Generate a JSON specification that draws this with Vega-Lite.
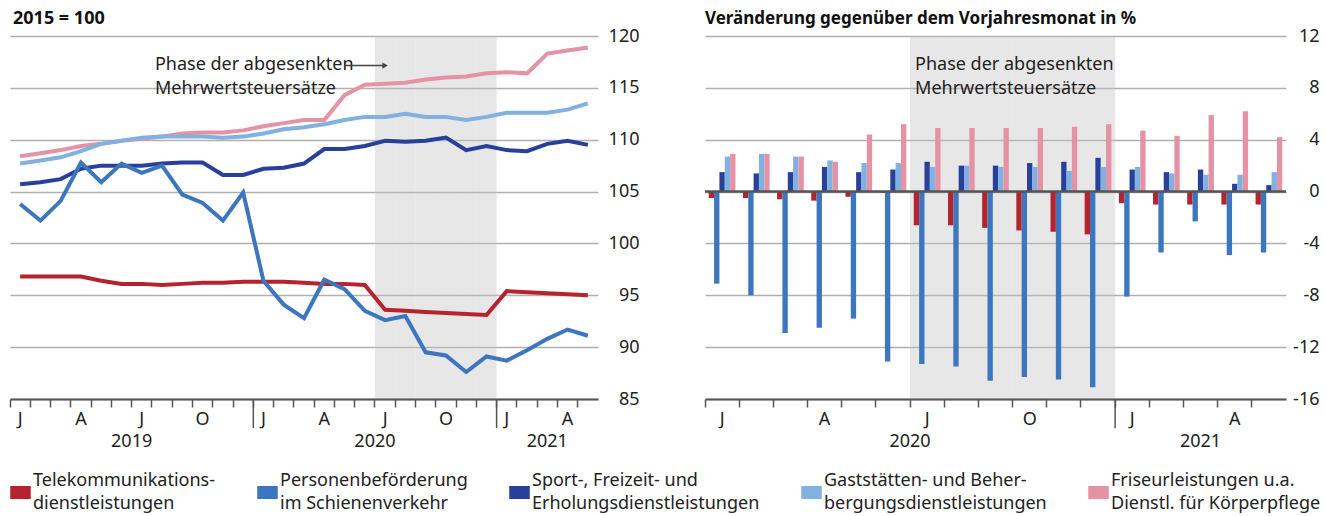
{
  "$schema": "https://vega.github.io/schema/vega-lite/v6.json",
  "background": "white",
  "padding": {"left": 9, "top": 10, "right": 0, "bottom": 0},
  "spacing": 64,
  "config": {
    "font": "Noto Sans",
    "view": {"stroke": null},
    "axis": {"labelFont": "Noto Sans", "labelFontSize": 18, "labelColor": "#222"},
    "title": {"font": "Noto Sans", "fontSize": 17, "fontWeight": "bold", "color": "#111", "anchor": "start", "frame": "group", "baseline": "alphabetic", "offset": -1},
    "text": {"font": "Noto Sans"}
  },
  "datasets": {
    "index": [
      {"m":"2019-01","s":"Fris","v":108.4},{"m":"2019-02","s":"Fris","v":108.7},{"m":"2019-03","s":"Fris","v":109.0},{"m":"2019-04","s":"Fris","v":109.4},{"m":"2019-05","s":"Fris","v":109.6},{"m":"2019-06","s":"Fris","v":109.9},{"m":"2019-07","s":"Fris","v":110.1},{"m":"2019-08","s":"Fris","v":110.3},{"m":"2019-09","s":"Fris","v":110.6},{"m":"2019-10","s":"Fris","v":110.7},{"m":"2019-11","s":"Fris","v":110.7},{"m":"2019-12","s":"Fris","v":110.9},
      {"m":"2020-01","s":"Fris","v":111.3},{"m":"2020-02","s":"Fris","v":111.6},{"m":"2020-03","s":"Fris","v":111.9},{"m":"2020-04","s":"Fris","v":111.9},{"m":"2020-05","s":"Fris","v":114.3},{"m":"2020-06","s":"Fris","v":115.3},{"m":"2020-07","s":"Fris","v":115.4},{"m":"2020-08","s":"Fris","v":115.5},{"m":"2020-09","s":"Fris","v":115.8},{"m":"2020-10","s":"Fris","v":116.0},{"m":"2020-11","s":"Fris","v":116.1},{"m":"2020-12","s":"Fris","v":116.4},
      {"m":"2021-01","s":"Fris","v":116.5},{"m":"2021-02","s":"Fris","v":116.4},{"m":"2021-03","s":"Fris","v":118.3},{"m":"2021-04","s":"Fris","v":118.6},{"m":"2021-05","s":"Fris","v":118.9},
      {"m":"2019-01","s":"Gast","v":107.7},{"m":"2019-02","s":"Gast","v":108.0},{"m":"2019-03","s":"Gast","v":108.3},{"m":"2019-04","s":"Gast","v":108.9},{"m":"2019-05","s":"Gast","v":109.6},{"m":"2019-06","s":"Gast","v":109.9},{"m":"2019-07","s":"Gast","v":110.2},{"m":"2019-08","s":"Gast","v":110.3},{"m":"2019-09","s":"Gast","v":110.3},{"m":"2019-10","s":"Gast","v":110.3},{"m":"2019-11","s":"Gast","v":110.2},{"m":"2019-12","s":"Gast","v":110.3},
      {"m":"2020-01","s":"Gast","v":110.6},{"m":"2020-02","s":"Gast","v":111.0},{"m":"2020-03","s":"Gast","v":111.2},{"m":"2020-04","s":"Gast","v":111.5},{"m":"2020-05","s":"Gast","v":111.9},{"m":"2020-06","s":"Gast","v":112.2},{"m":"2020-07","s":"Gast","v":112.2},{"m":"2020-08","s":"Gast","v":112.5},{"m":"2020-09","s":"Gast","v":112.2},{"m":"2020-10","s":"Gast","v":112.2},{"m":"2020-11","s":"Gast","v":111.9},{"m":"2020-12","s":"Gast","v":112.2},
      {"m":"2021-01","s":"Gast","v":112.6},{"m":"2021-02","s":"Gast","v":112.6},{"m":"2021-03","s":"Gast","v":112.6},{"m":"2021-04","s":"Gast","v":112.9},{"m":"2021-05","s":"Gast","v":113.5},
      {"m":"2019-01","s":"Sport","v":105.7},{"m":"2019-02","s":"Sport","v":105.9},{"m":"2019-03","s":"Sport","v":106.2},{"m":"2019-04","s":"Sport","v":107.2},{"m":"2019-05","s":"Sport","v":107.5},{"m":"2019-06","s":"Sport","v":107.5},{"m":"2019-07","s":"Sport","v":107.5},{"m":"2019-08","s":"Sport","v":107.7},{"m":"2019-09","s":"Sport","v":107.8},{"m":"2019-10","s":"Sport","v":107.8},{"m":"2019-11","s":"Sport","v":106.6},{"m":"2019-12","s":"Sport","v":106.6},
      {"m":"2020-01","s":"Sport","v":107.2},{"m":"2020-02","s":"Sport","v":107.3},{"m":"2020-03","s":"Sport","v":107.7},{"m":"2020-04","s":"Sport","v":109.1},{"m":"2020-05","s":"Sport","v":109.1},{"m":"2020-06","s":"Sport","v":109.4},{"m":"2020-07","s":"Sport","v":109.9},{"m":"2020-08","s":"Sport","v":109.8},{"m":"2020-09","s":"Sport","v":109.9},{"m":"2020-10","s":"Sport","v":110.2},{"m":"2020-11","s":"Sport","v":109.0},{"m":"2020-12","s":"Sport","v":109.4},
      {"m":"2021-01","s":"Sport","v":109.0},{"m":"2021-02","s":"Sport","v":108.9},{"m":"2021-03","s":"Sport","v":109.6},{"m":"2021-04","s":"Sport","v":109.9},{"m":"2021-05","s":"Sport","v":109.5},
      {"m":"2019-01","s":"Tel","v":96.8},{"m":"2019-02","s":"Tel","v":96.8},{"m":"2019-03","s":"Tel","v":96.8},{"m":"2019-04","s":"Tel","v":96.8},{"m":"2019-05","s":"Tel","v":96.4},{"m":"2019-06","s":"Tel","v":96.1},{"m":"2019-07","s":"Tel","v":96.1},{"m":"2019-08","s":"Tel","v":96.0},{"m":"2019-09","s":"Tel","v":96.1},{"m":"2019-10","s":"Tel","v":96.2},{"m":"2019-11","s":"Tel","v":96.2},{"m":"2019-12","s":"Tel","v":96.3},
      {"m":"2020-01","s":"Tel","v":96.3},{"m":"2020-02","s":"Tel","v":96.3},{"m":"2020-03","s":"Tel","v":96.2},{"m":"2020-04","s":"Tel","v":96.1},{"m":"2020-05","s":"Tel","v":96.1},{"m":"2020-06","s":"Tel","v":96.0},{"m":"2020-07","s":"Tel","v":93.6},{"m":"2020-08","s":"Tel","v":93.5},{"m":"2020-09","s":"Tel","v":93.4},{"m":"2020-10","s":"Tel","v":93.3},{"m":"2020-11","s":"Tel","v":93.2},{"m":"2020-12","s":"Tel","v":93.1},
      {"m":"2021-01","s":"Tel","v":95.4},{"m":"2021-02","s":"Tel","v":95.3},{"m":"2021-03","s":"Tel","v":95.2},{"m":"2021-04","s":"Tel","v":95.1},{"m":"2021-05","s":"Tel","v":95.0},
      {"m":"2019-01","s":"Bahn","v":103.8},{"m":"2019-02","s":"Bahn","v":102.2},{"m":"2019-03","s":"Bahn","v":104.1},{"m":"2019-04","s":"Bahn","v":107.8},{"m":"2019-05","s":"Bahn","v":105.9},{"m":"2019-06","s":"Bahn","v":107.7},{"m":"2019-07","s":"Bahn","v":106.8},{"m":"2019-08","s":"Bahn","v":107.5},{"m":"2019-09","s":"Bahn","v":104.7},{"m":"2019-10","s":"Bahn","v":103.9},{"m":"2019-11","s":"Bahn","v":102.2},{"m":"2019-12","s":"Bahn","v":104.9},
      {"m":"2020-01","s":"Bahn","v":96.4},{"m":"2020-02","s":"Bahn","v":94.1},{"m":"2020-03","s":"Bahn","v":92.8},{"m":"2020-04","s":"Bahn","v":96.5},{"m":"2020-05","s":"Bahn","v":95.6},{"m":"2020-06","s":"Bahn","v":93.5},{"m":"2020-07","s":"Bahn","v":92.6},{"m":"2020-08","s":"Bahn","v":93.0},{"m":"2020-09","s":"Bahn","v":89.5},{"m":"2020-10","s":"Bahn","v":89.2},{"m":"2020-11","s":"Bahn","v":87.6},{"m":"2020-12","s":"Bahn","v":89.1},
      {"m":"2021-01","s":"Bahn","v":88.7},{"m":"2021-02","s":"Bahn","v":89.7},{"m":"2021-03","s":"Bahn","v":90.8},{"m":"2021-04","s":"Bahn","v":91.7},{"m":"2021-05","s":"Bahn","v":91.1}
    ],
    "change": [
      {"m":"2020-01","s":"Tel","v":-0.5},{"m":"2020-02","s":"Tel","v":-0.5},{"m":"2020-03","s":"Tel","v":-0.6},{"m":"2020-04","s":"Tel","v":-0.7},{"m":"2020-05","s":"Tel","v":-0.4},{"m":"2020-06","s":"Tel","v":-0.1},{"m":"2020-07","s":"Tel","v":-2.6},{"m":"2020-08","s":"Tel","v":-2.6},{"m":"2020-09","s":"Tel","v":-2.8},{"m":"2020-10","s":"Tel","v":-3.0},{"m":"2020-11","s":"Tel","v":-3.1},{"m":"2020-12","s":"Tel","v":-3.3},{"m":"2021-01","s":"Tel","v":-0.9},{"m":"2021-02","s":"Tel","v":-1.0},{"m":"2021-03","s":"Tel","v":-1.0},{"m":"2021-04","s":"Tel","v":-1.0},{"m":"2021-05","s":"Tel","v":-1.0},
      {"m":"2020-01","s":"Bahn","v":-7.1},{"m":"2020-02","s":"Bahn","v":-8.0},{"m":"2020-03","s":"Bahn","v":-10.9},{"m":"2020-04","s":"Bahn","v":-10.5},{"m":"2020-05","s":"Bahn","v":-9.8},{"m":"2020-06","s":"Bahn","v":-13.1},{"m":"2020-07","s":"Bahn","v":-13.3},{"m":"2020-08","s":"Bahn","v":-13.5},{"m":"2020-09","s":"Bahn","v":-14.6},{"m":"2020-10","s":"Bahn","v":-14.3},{"m":"2020-11","s":"Bahn","v":-14.5},{"m":"2020-12","s":"Bahn","v":-15.1},{"m":"2021-01","s":"Bahn","v":-8.1},{"m":"2021-02","s":"Bahn","v":-4.7},{"m":"2021-03","s":"Bahn","v":-2.3},{"m":"2021-04","s":"Bahn","v":-4.9},{"m":"2021-05","s":"Bahn","v":-4.7},
      {"m":"2020-01","s":"Sport","v":1.5},{"m":"2020-02","s":"Sport","v":1.4},{"m":"2020-03","s":"Sport","v":1.5},{"m":"2020-04","s":"Sport","v":1.9},{"m":"2020-05","s":"Sport","v":1.5},{"m":"2020-06","s":"Sport","v":1.7},{"m":"2020-07","s":"Sport","v":2.3},{"m":"2020-08","s":"Sport","v":2.0},{"m":"2020-09","s":"Sport","v":2.0},{"m":"2020-10","s":"Sport","v":2.2},{"m":"2020-11","s":"Sport","v":2.3},{"m":"2020-12","s":"Sport","v":2.6},{"m":"2021-01","s":"Sport","v":1.7},{"m":"2021-02","s":"Sport","v":1.5},{"m":"2021-03","s":"Sport","v":1.7},{"m":"2021-04","s":"Sport","v":0.6},{"m":"2021-05","s":"Sport","v":0.5},
      {"m":"2020-01","s":"Gast","v":2.7},{"m":"2020-02","s":"Gast","v":2.9},{"m":"2020-03","s":"Gast","v":2.7},{"m":"2020-04","s":"Gast","v":2.4},{"m":"2020-05","s":"Gast","v":2.2},{"m":"2020-06","s":"Gast","v":2.2},{"m":"2020-07","s":"Gast","v":1.9},{"m":"2020-08","s":"Gast","v":2.0},{"m":"2020-09","s":"Gast","v":1.9},{"m":"2020-10","s":"Gast","v":1.9},{"m":"2020-11","s":"Gast","v":1.6},{"m":"2020-12","s":"Gast","v":1.9},{"m":"2021-01","s":"Gast","v":1.9},{"m":"2021-02","s":"Gast","v":1.4},{"m":"2021-03","s":"Gast","v":1.3},{"m":"2021-04","s":"Gast","v":1.3},{"m":"2021-05","s":"Gast","v":1.5},
      {"m":"2020-01","s":"Fris","v":2.9},{"m":"2020-02","s":"Fris","v":2.9},{"m":"2020-03","s":"Fris","v":2.7},{"m":"2020-04","s":"Fris","v":2.3},{"m":"2020-05","s":"Fris","v":4.4},{"m":"2020-06","s":"Fris","v":5.2},{"m":"2020-07","s":"Fris","v":4.9},{"m":"2020-08","s":"Fris","v":4.9},{"m":"2020-09","s":"Fris","v":4.9},{"m":"2020-10","s":"Fris","v":4.9},{"m":"2020-11","s":"Fris","v":5.0},{"m":"2020-12","s":"Fris","v":5.2},{"m":"2021-01","s":"Fris","v":4.7},{"m":"2021-02","s":"Fris","v":4.3},{"m":"2021-03","s":"Fris","v":5.9},{"m":"2021-04","s":"Fris","v":6.2},{"m":"2021-05","s":"Fris","v":4.2}
    ],
    "phase": [{"m":"2020-07"},{"m":"2020-08"},{"m":"2020-09"},{"m":"2020-10"},{"m":"2020-11"},{"m":"2020-12"}],
    "yearsepL": [{"m":"2020-01"},{"m":"2021-01"}],
    "yearsepR": [{"m":"2021-01"}],
    "yearsL": [{"m":"2019-07","t":"2019"},{"m":"2020-07","t":"2020"}],
    "yearsR": [{"m":"2020-07","t":"2020"}],
    "year2021": [{"m":"2021-03","t":"2021"}],
    "noteL": [{"m":"2019-08","t":"Phase der abgesenkten\nMehrwertsteuersätze"}],
    "noteR": [{"m":"2020-07","t":"Phase der abgesenkten\nMehrwertsteuersätze"}],
    "arrow": [{"m":"2020-05"},{"m":"2020-07"}],
    "arrowhead": [{"m":"2020-07"}],
    "zero": [{"z": 0}]
  },
  "hconcat": [
    {
      "width": 588,
      "height": 363,
      "title": {"text": "2015 = 100", "dx": 3, "fontSize": 18},
      "layer": [
        {
          "data": {"name": "phase"},
          "mark": {"type": "rect", "color": "#c4c4c4", "opacity": 0.4},
          "encoding": {
            "x": {"field": "m", "type": "ordinal", "scale": {"type": "band", "paddingInner": 0, "paddingOuter": 0},
              "axis": {"title": null, "bandPosition": 0, "labelAngle": 0, "labelOverlap": false, "domainColor": "#555", "domainWidth": 2, "tickColor": "#555", "tickWidth": 1.5, "tickSize": 8, "labelPadding": 3, "grid": false,
                "labelExpr": "slice(datum.value,5)=='01' ? 'J' : slice(datum.value,5)=='04' ? 'A' : slice(datum.value,5)=='07' ? 'J' : slice(datum.value,5)=='10' ? 'O' : ''"}},
            "y": {"datum": 120, "type": "quantitative", "scale": {"domain": [85, 120], "nice": false, "zero": false},
              "axis": {"title": null, "orient": "right", "values": [85, 90, 95, 100, 105, 110, 115, 120], "domain": false, "ticks": false, "tickSize": 0, "grid": true, "gridColor": "#b0b0b0", "gridWidth": 1.3, "labelAlign": "right", "labelBaseline": "middle", "labelPadding": 41}},
            "y2": {"datum": 85}
          }
        },
        {
          "data": {"name": "index"},
          "mark": {"type": "line", "strokeWidth": 4},
          "encoding": {
            "x": {"field": "m", "type": "ordinal", "scale": {"type": "band", "paddingInner": 0, "paddingOuter": 0},
              "axis": {"title": null, "bandPosition": 0, "labelAngle": 0, "labelOverlap": false, "domainColor": "#555", "domainWidth": 2, "tickColor": "#555", "tickWidth": 1.5, "tickSize": 8, "labelPadding": 3, "grid": false,
                "labelExpr": "slice(datum.value,5)=='01' ? 'J' : slice(datum.value,5)=='04' ? 'A' : slice(datum.value,5)=='07' ? 'J' : slice(datum.value,5)=='10' ? 'O' : ''"}},
            "y": {"field": "v", "type": "quantitative", "scale": {"domain": [85, 120], "nice": false, "zero": false},
              "axis": {"title": null, "orient": "right", "values": [85, 90, 95, 100, 105, 110, 115, 120], "domain": false, "ticks": false, "tickSize": 0, "grid": true, "gridColor": "#b0b0b0", "gridWidth": 1.3, "labelAlign": "right", "labelBaseline": "middle", "labelPadding": 41}},
            "color": {"field": "s", "type": "nominal",
              "scale": {"domain": ["Tel", "Bahn", "Sport", "Gast", "Fris"], "range": ["#B5232E", "#3B76BE", "#28409A", "#80B1E0", "#E592A4"]},
              "legend": {"title": null, "orient": "none", "legendX": 0, "legendY": 446, "direction": "horizontal", "columns": 5, "columnPadding": 39,
                "symbolType": "M-1,-0.6H1V0.6H-1Z", "symbolSize": 361, "labelFontSize": 18, "labelFont": "Noto Sans", "labelColor": "#222", "labelOffset": 2, "labelLimit": 400,
                "labelExpr": "datum.label=='Tel' ? ['Telekommunikations-','dienstleistungen'] : datum.label=='Bahn' ? ['Personenbeförderung','im Schienenverkehr'] : datum.label=='Sport' ? ['Sport-, Freizeit- und','Erholungsdienstleistungen'] : datum.label=='Gast' ? ['Gaststätten- und Beher-','bergungsdienstleistungen'] : ['Friseurleistungen u.a.','Dienstl. für Körperpflege']",
                "encode": {"symbols": {"update": {"fill": {"scale": "color", "field": "value"}, "stroke": {"value": "transparent"}, "opacity": {"value": 1}}}, "labels": {"update": {"lineHeight": {"value": 23}, "dy": {"value": -11.5}}}}}}
          }
        },
        {
          "data": {"name": "yearsepL"},
          "mark": {"type": "rule", "color": "#555", "strokeWidth": 1.5},
          "encoding": {
            "x": {"field": "m", "type": "ordinal", "bandPosition": 0, "scale": {"type": "band", "paddingInner": 0, "paddingOuter": 0},
              "axis": {"title": null, "bandPosition": 0, "labelAngle": 0, "labelOverlap": false, "domainColor": "#555", "domainWidth": 2, "tickColor": "#555", "tickWidth": 1.5, "tickSize": 8, "labelPadding": 3, "grid": false,
                "labelExpr": "slice(datum.value,5)=='01' ? 'J' : slice(datum.value,5)=='04' ? 'A' : slice(datum.value,5)=='07' ? 'J' : slice(datum.value,5)=='10' ? 'O' : ''"}},
            "y": {"datum": 85, "type": "quantitative", "scale": {"domain": [85, 120], "nice": false, "zero": false},
              "axis": {"title": null, "orient": "right", "values": [85, 90, 95, 100, 105, 110, 115, 120], "domain": false, "ticks": false, "tickSize": 0, "grid": true, "gridColor": "#b0b0b0", "gridWidth": 1.3, "labelAlign": "right", "labelBaseline": "middle", "labelPadding": 41}},
            "y2": {"datum": 82.2}
          }
        },
        {
          "data": {"name": "yearsL"},
          "mark": {"type": "text", "fontSize": 18, "color": "#222", "baseline": "middle", "align": "center"},
          "encoding": {
            "x": {"field": "m", "type": "ordinal", "bandPosition": 0, "scale": {"type": "band", "paddingInner": 0, "paddingOuter": 0},
              "axis": {"title": null, "bandPosition": 0, "labelAngle": 0, "labelOverlap": false, "domainColor": "#555", "domainWidth": 2, "tickColor": "#555", "tickWidth": 1.5, "tickSize": 8, "labelPadding": 3, "grid": false,
                "labelExpr": "slice(datum.value,5)=='01' ? 'J' : slice(datum.value,5)=='04' ? 'A' : slice(datum.value,5)=='07' ? 'J' : slice(datum.value,5)=='10' ? 'O' : ''"}},
            "y": {"datum": 80.85, "type": "quantitative", "scale": {"domain": [85, 120], "nice": false, "zero": false},
              "axis": {"title": null, "orient": "right", "values": [85, 90, 95, 100, 105, 110, 115, 120], "domain": false, "ticks": false, "tickSize": 0, "grid": true, "gridColor": "#b0b0b0", "gridWidth": 1.3, "labelAlign": "right", "labelBaseline": "middle", "labelPadding": 41}},
            "text": {"field": "t"}
          }
        },
        {
          "data": {"name": "year2021"},
          "mark": {"type": "text", "fontSize": 18, "color": "#222", "baseline": "middle", "align": "center"},
          "encoding": {
            "x": {"field": "m", "type": "ordinal", "scale": {"type": "band", "paddingInner": 0, "paddingOuter": 0},
              "axis": {"title": null, "bandPosition": 0, "labelAngle": 0, "labelOverlap": false, "domainColor": "#555", "domainWidth": 2, "tickColor": "#555", "tickWidth": 1.5, "tickSize": 8, "labelPadding": 3, "grid": false,
                "labelExpr": "slice(datum.value,5)=='01' ? 'J' : slice(datum.value,5)=='04' ? 'A' : slice(datum.value,5)=='07' ? 'J' : slice(datum.value,5)=='10' ? 'O' : ''"}},
            "y": {"datum": 80.85, "type": "quantitative", "scale": {"domain": [85, 120], "nice": false, "zero": false},
              "axis": {"title": null, "orient": "right", "values": [85, 90, 95, 100, 105, 110, 115, 120], "domain": false, "ticks": false, "tickSize": 0, "grid": true, "gridColor": "#b0b0b0", "gridWidth": 1.3, "labelAlign": "right", "labelBaseline": "middle", "labelPadding": 41}},
            "text": {"field": "t"}
          }
        },
        {
          "data": {"name": "noteL"},
          "mark": {"type": "text", "fontSize": 18, "color": "#222", "baseline": "middle", "align": "left", "lineBreak": "\n", "lineHeight": 24, "dx": 3},
          "encoding": {
            "x": {"field": "m", "type": "ordinal", "bandPosition": 0, "scale": {"type": "band", "paddingInner": 0, "paddingOuter": 0},
              "axis": {"title": null, "bandPosition": 0, "labelAngle": 0, "labelOverlap": false, "domainColor": "#555", "domainWidth": 2, "tickColor": "#555", "tickWidth": 1.5, "tickSize": 8, "labelPadding": 3, "grid": false,
                "labelExpr": "slice(datum.value,5)=='01' ? 'J' : slice(datum.value,5)=='04' ? 'A' : slice(datum.value,5)=='07' ? 'J' : slice(datum.value,5)=='10' ? 'O' : ''"}},
            "y": {"datum": 117.2, "type": "quantitative", "scale": {"domain": [85, 120], "nice": false, "zero": false},
              "axis": {"title": null, "orient": "right", "values": [85, 90, 95, 100, 105, 110, 115, 120], "domain": false, "ticks": false, "tickSize": 0, "grid": true, "gridColor": "#b0b0b0", "gridWidth": 1.3, "labelAlign": "right", "labelBaseline": "middle", "labelPadding": 41}},
            "text": {"field": "t"}
          }
        },
        {
          "data": {"name": "arrow"},
          "mark": {"type": "line", "color": "#444", "strokeWidth": 1.5},
          "encoding": {
            "x": {"field": "m", "type": "ordinal", "scale": {"type": "band", "paddingInner": 0, "paddingOuter": 0},
              "axis": {"title": null, "bandPosition": 0, "labelAngle": 0, "labelOverlap": false, "domainColor": "#555", "domainWidth": 2, "tickColor": "#555", "tickWidth": 1.5, "tickSize": 8, "labelPadding": 3, "grid": false,
                "labelExpr": "slice(datum.value,5)=='01' ? 'J' : slice(datum.value,5)=='04' ? 'A' : slice(datum.value,5)=='07' ? 'J' : slice(datum.value,5)=='10' ? 'O' : ''"}},
            "y": {"datum": 117.15, "type": "quantitative", "scale": {"domain": [85, 120], "nice": false, "zero": false},
              "axis": {"title": null, "orient": "right", "values": [85, 90, 95, 100, 105, 110, 115, 120], "domain": false, "ticks": false, "tickSize": 0, "grid": true, "gridColor": "#b0b0b0", "gridWidth": 1.3, "labelAlign": "right", "labelBaseline": "middle", "labelPadding": 41}}
          }
        },
        {
          "data": {"name": "arrowhead"},
          "mark": {"type": "point", "shape": "triangle-right", "filled": true, "color": "#444", "size": 40, "opacity": 1},
          "encoding": {
            "x": {"field": "m", "type": "ordinal", "scale": {"type": "band", "paddingInner": 0, "paddingOuter": 0},
              "axis": {"title": null, "bandPosition": 0, "labelAngle": 0, "labelOverlap": false, "domainColor": "#555", "domainWidth": 2, "tickColor": "#555", "tickWidth": 1.5, "tickSize": 8, "labelPadding": 3, "grid": false,
                "labelExpr": "slice(datum.value,5)=='01' ? 'J' : slice(datum.value,5)=='04' ? 'A' : slice(datum.value,5)=='07' ? 'J' : slice(datum.value,5)=='10' ? 'O' : ''"}},
            "y": {"datum": 117.15, "type": "quantitative", "scale": {"domain": [85, 120], "nice": false, "zero": false},
              "axis": {"title": null, "orient": "right", "values": [85, 90, 95, 100, 105, 110, 115, 120], "domain": false, "ticks": false, "tickSize": 0, "grid": true, "gridColor": "#b0b0b0", "gridWidth": 1.3, "labelAlign": "right", "labelBaseline": "middle", "labelPadding": 41}}
          }
        }
      ]
    },
    {
      "width": 581,
      "height": 363,
      "title": {"text": "Veränderung gegenüber dem Vorjahresmonat in %", "dx": 0},
      "layer": [
        {
          "data": {"name": "phase"},
          "mark": {"type": "rect", "color": "#c4c4c4", "opacity": 0.4},
          "encoding": {
            "x": {"field": "m", "type": "ordinal", "scale": {"type": "band", "paddingInner": 0, "paddingOuter": 0},
              "axis": {"title": null, "bandPosition": 0, "labelAngle": 0, "labelOverlap": false, "domainColor": "#555", "domainWidth": 2, "tickColor": "#555", "tickWidth": 1.5, "tickSize": 8, "labelPadding": 3, "grid": false,
                "labelExpr": "slice(datum.value,5)=='01' ? 'J' : slice(datum.value,5)=='04' ? 'A' : slice(datum.value,5)=='07' ? 'J' : slice(datum.value,5)=='10' ? 'O' : ''"}},
            "y": {"datum": 12, "type": "quantitative", "scale": {"domain": [-16, 12], "nice": false, "zero": false},
              "axis": {"title": null, "orient": "right", "values": [-16, -12, -8, -4, 0, 4, 8, 12], "domain": false, "ticks": false, "tickSize": 0, "grid": true, "gridColor": "#b0b0b0", "gridWidth": 1.3, "labelAlign": "right", "labelBaseline": "middle", "labelPadding": 33,
                "labelExpr": "datum.value < 0 ? '-' + abs(datum.value) : '' + datum.value"}},
            "y2": {"datum": -16}
          }
        },
        {
          "data": {"name": "change"},
          "mark": {"type": "bar"},
          "encoding": {
            "x": {"field": "m", "type": "ordinal", "scale": {"type": "band", "paddingInner": 0, "paddingOuter": 0},
              "axis": {"title": null, "bandPosition": 0, "labelAngle": 0, "labelOverlap": false, "domainColor": "#555", "domainWidth": 2, "tickColor": "#555", "tickWidth": 1.5, "tickSize": 8, "labelPadding": 3, "grid": false,
                "labelExpr": "slice(datum.value,5)=='01' ? 'J' : slice(datum.value,5)=='04' ? 'A' : slice(datum.value,5)=='07' ? 'J' : slice(datum.value,5)=='10' ? 'O' : ''"}},
            "xOffset": {"field": "s", "type": "nominal", "scale": {"domain": ["Tel", "Bahn", "Sport", "Gast", "Fris"], "paddingInner": 0, "paddingOuter": 0.7}},
            "y": {"field": "v", "type": "quantitative", "scale": {"domain": [-16, 12], "nice": false, "zero": false},
              "axis": {"title": null, "orient": "right", "values": [-16, -12, -8, -4, 0, 4, 8, 12], "domain": false, "ticks": false, "tickSize": 0, "grid": true, "gridColor": "#b0b0b0", "gridWidth": 1.3, "labelAlign": "right", "labelBaseline": "middle", "labelPadding": 33,
                "labelExpr": "datum.value < 0 ? '-' + abs(datum.value) : '' + datum.value"}},
            "color": {"field": "s", "type": "nominal",
              "scale": {"domain": ["Tel", "Bahn", "Sport", "Gast", "Fris"], "range": ["#B5232E", "#3B76BE", "#28409A", "#80B1E0", "#E592A4"]},
              "legend": {"title": null, "orient": "none", "legendX": 0, "legendY": 446, "direction": "horizontal", "columns": 5, "columnPadding": 39,
                "symbolType": "M-1,-0.6H1V0.6H-1Z", "symbolSize": 361, "labelFontSize": 18, "labelFont": "Noto Sans", "labelColor": "#222", "labelOffset": 2, "labelLimit": 400,
                "labelExpr": "datum.label=='Tel' ? ['Telekommunikations-','dienstleistungen'] : datum.label=='Bahn' ? ['Personenbeförderung','im Schienenverkehr'] : datum.label=='Sport' ? ['Sport-, Freizeit- und','Erholungsdienstleistungen'] : datum.label=='Gast' ? ['Gaststätten- und Beher-','bergungsdienstleistungen'] : ['Friseurleistungen u.a.','Dienstl. für Körperpflege']",
                "encode": {"symbols": {"update": {"fill": {"scale": "color", "field": "value"}, "stroke": {"value": "transparent"}, "opacity": {"value": 1}}}, "labels": {"update": {"lineHeight": {"value": 23}, "dy": {"value": -11.5}}}}}}
          }
        },
        {
          "data": {"name": "zero"},
          "mark": {"type": "rule", "color": "#555", "strokeWidth": 2.5},
          "encoding": {
            "y": {"field": "z", "type": "quantitative", "scale": {"domain": [-16, 12], "nice": false, "zero": false},
              "axis": {"title": null, "orient": "right", "values": [-16, -12, -8, -4, 0, 4, 8, 12], "domain": false, "ticks": false, "tickSize": 0, "grid": true, "gridColor": "#b0b0b0", "gridWidth": 1.3, "labelAlign": "right", "labelBaseline": "middle", "labelPadding": 33,
                "labelExpr": "datum.value < 0 ? '-' + abs(datum.value) : '' + datum.value"}}
          }
        },
        {
          "data": {"name": "yearsepR"},
          "mark": {"type": "rule", "color": "#555", "strokeWidth": 1.5},
          "encoding": {
            "x": {"field": "m", "type": "ordinal", "bandPosition": 0, "scale": {"type": "band", "paddingInner": 0, "paddingOuter": 0},
              "axis": {"title": null, "bandPosition": 0, "labelAngle": 0, "labelOverlap": false, "domainColor": "#555", "domainWidth": 2, "tickColor": "#555", "tickWidth": 1.5, "tickSize": 8, "labelPadding": 3, "grid": false,
                "labelExpr": "slice(datum.value,5)=='01' ? 'J' : slice(datum.value,5)=='04' ? 'A' : slice(datum.value,5)=='07' ? 'J' : slice(datum.value,5)=='10' ? 'O' : ''"}},
            "y": {"datum": -16, "type": "quantitative", "scale": {"domain": [-16, 12], "nice": false, "zero": false},
              "axis": {"title": null, "orient": "right", "values": [-16, -12, -8, -4, 0, 4, 8, 12], "domain": false, "ticks": false, "tickSize": 0, "grid": true, "gridColor": "#b0b0b0", "gridWidth": 1.3, "labelAlign": "right", "labelBaseline": "middle", "labelPadding": 33,
                "labelExpr": "datum.value < 0 ? '-' + abs(datum.value) : '' + datum.value"}},
            "y2": {"datum": -18.25}
          }
        },
        {
          "data": {"name": "yearsR"},
          "mark": {"type": "text", "fontSize": 18, "color": "#222", "baseline": "middle", "align": "center"},
          "encoding": {
            "x": {"field": "m", "type": "ordinal", "bandPosition": 0, "scale": {"type": "band", "paddingInner": 0, "paddingOuter": 0},
              "axis": {"title": null, "bandPosition": 0, "labelAngle": 0, "labelOverlap": false, "domainColor": "#555", "domainWidth": 2, "tickColor": "#555", "tickWidth": 1.5, "tickSize": 8, "labelPadding": 3, "grid": false,
                "labelExpr": "slice(datum.value,5)=='01' ? 'J' : slice(datum.value,5)=='04' ? 'A' : slice(datum.value,5)=='07' ? 'J' : slice(datum.value,5)=='10' ? 'O' : ''"}},
            "y": {"datum": -19.3, "type": "quantitative", "scale": {"domain": [-16, 12], "nice": false, "zero": false},
              "axis": {"title": null, "orient": "right", "values": [-16, -12, -8, -4, 0, 4, 8, 12], "domain": false, "ticks": false, "tickSize": 0, "grid": true, "gridColor": "#b0b0b0", "gridWidth": 1.3, "labelAlign": "right", "labelBaseline": "middle", "labelPadding": 33,
                "labelExpr": "datum.value < 0 ? '-' + abs(datum.value) : '' + datum.value"}},
            "text": {"field": "t"}
          }
        },
        {
          "data": {"name": "year2021"},
          "mark": {"type": "text", "fontSize": 18, "color": "#222", "baseline": "middle", "align": "center"},
          "encoding": {
            "x": {"field": "m", "type": "ordinal", "scale": {"type": "band", "paddingInner": 0, "paddingOuter": 0},
              "axis": {"title": null, "bandPosition": 0, "labelAngle": 0, "labelOverlap": false, "domainColor": "#555", "domainWidth": 2, "tickColor": "#555", "tickWidth": 1.5, "tickSize": 8, "labelPadding": 3, "grid": false,
                "labelExpr": "slice(datum.value,5)=='01' ? 'J' : slice(datum.value,5)=='04' ? 'A' : slice(datum.value,5)=='07' ? 'J' : slice(datum.value,5)=='10' ? 'O' : ''"}},
            "y": {"datum": -19.3, "type": "quantitative", "scale": {"domain": [-16, 12], "nice": false, "zero": false},
              "axis": {"title": null, "orient": "right", "values": [-16, -12, -8, -4, 0, 4, 8, 12], "domain": false, "ticks": false, "tickSize": 0, "grid": true, "gridColor": "#b0b0b0", "gridWidth": 1.3, "labelAlign": "right", "labelBaseline": "middle", "labelPadding": 33,
                "labelExpr": "datum.value < 0 ? '-' + abs(datum.value) : '' + datum.value"}},
            "text": {"field": "t"}
          }
        },
        {
          "data": {"name": "noteR"},
          "mark": {"type": "text", "fontSize": 18, "color": "#222", "baseline": "middle", "align": "left", "lineBreak": "\n", "lineHeight": 24, "dx": 5},
          "encoding": {
            "x": {"field": "m", "type": "ordinal", "bandPosition": 0, "scale": {"type": "band", "paddingInner": 0, "paddingOuter": 0},
              "axis": {"title": null, "bandPosition": 0, "labelAngle": 0, "labelOverlap": false, "domainColor": "#555", "domainWidth": 2, "tickColor": "#555", "tickWidth": 1.5, "tickSize": 8, "labelPadding": 3, "grid": false,
                "labelExpr": "slice(datum.value,5)=='01' ? 'J' : slice(datum.value,5)=='04' ? 'A' : slice(datum.value,5)=='07' ? 'J' : slice(datum.value,5)=='10' ? 'O' : ''"}},
            "y": {"datum": 9.76, "type": "quantitative", "scale": {"domain": [-16, 12], "nice": false, "zero": false},
              "axis": {"title": null, "orient": "right", "values": [-16, -12, -8, -4, 0, 4, 8, 12], "domain": false, "ticks": false, "tickSize": 0, "grid": true, "gridColor": "#b0b0b0", "gridWidth": 1.3, "labelAlign": "right", "labelBaseline": "middle", "labelPadding": 33,
                "labelExpr": "datum.value < 0 ? '-' + abs(datum.value) : '' + datum.value"}},
            "text": {"field": "t"}
          }
        }
      ]
    }
  ]
}
